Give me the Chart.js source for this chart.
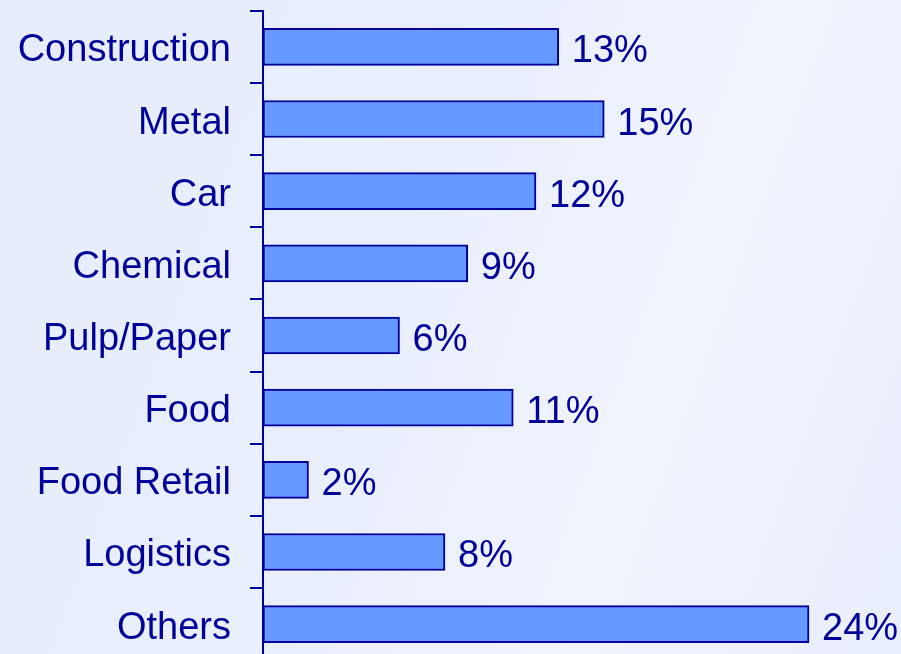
<!DOCTYPE html>
<html lang="en">
<head>
    <meta charset="utf-8">
    <script src="https://cdn.jsdelivr.net/npm/chart.js"></script>
    <style>
        html, body { margin: 0; padding: 0; overflow: hidden; }
        body {
            width: 901px; height: 654px; position: relative;
            background: linear-gradient(110deg, #e6ecfb 0%, #eaeffc 45%, #f1f4fd 70%, #e9eefb 100%);
        }
        /* canvas runs past the window so the last category is cut like the original */
        #wrap { position: absolute; left: 0; top: -31px; width: 901px; height: 733px; }
    </style>
</head>
<body>
    <div id="wrap"><canvas id="sectorChart"></canvas></div>

    <script>
        // sector shares (%)
        const sectors = ['Construction', 'Metal', 'Car', 'Chemical', 'Pulp/Paper', 'Food', 'Food Retail', 'Logistics', 'Others'];
        const shares = [13, 15, 12, 9, 6, 11, 2, 8, 24];

        const navy = '#000099';
        const fontSpec = { family: 'Liberation Sans, Arial, sans-serif', size: 38 };

        // draw the "13%" style labels next to each bar
        const valueLabels = {
            id: 'valueLabels',
            afterDatasetsDraw(chart) {
                const ctx = chart.ctx;
                const meta = chart.getDatasetMeta(0);
                ctx.save();
                ctx.font = fontSpec.size + 'px ' + fontSpec.family;
                ctx.fillStyle = navy;
                ctx.textAlign = 'left';
                ctx.textBaseline = 'middle';
                meta.data.forEach((bar, i) => {
                    ctx.fillText(shares[i] + '%', bar.x + 13, bar.y + 5);
                });
                ctx.restore();
            }
        };

        new Chart(document.getElementById('sectorChart'), {
            type: 'bar',
            data: {
                labels: sectors,
                datasets: [{
                    data: shares,
                    backgroundColor: '#6699ff',
                    borderColor: navy,
                    borderWidth: 2,
                    borderSkipped: false,
                    barThickness: 37
                }]
            },
            options: {
                indexAxis: 'y',
                responsive: true,
                maintainAspectRatio: false,
                animation: false,
                layout: { padding: { top: 11, right: 1, bottom: 0, left: 0 } },
                plugins: { legend: { display: false }, tooltip: { enabled: false } },
                scales: {
                    x: {
                        display: false,
                        min: 0,
                        max: 28
                    },
                    y: {
                        offset: true,
                        afterFit(scale) { scale.width = 263; },
                        border: { display: true, color: navy, width: 2 },
                        grid: {
                            offset: true,
                            drawOnChartArea: false,
                            drawTicks: true,
                            tickLength: 13,
                            color: navy,
                            lineWidth: 2
                        },
                        ticks: {
                            color: navy,
                            font: fontSpec,
                            padding: 19,
                            labelOffset: 4
                        }
                    }
                }
            },
            plugins: [valueLabels]
        });
    </script>
</body>
</html>
